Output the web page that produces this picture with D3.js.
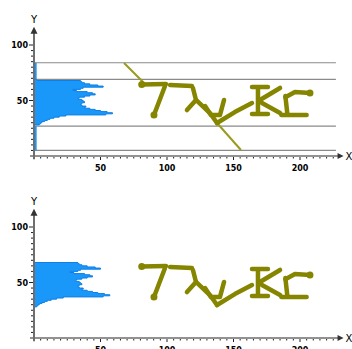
<!DOCTYPE html>
<html>
<head>
<meta charset="utf-8">
<script src="https://cdn.jsdelivr.net/npm/d3@7"></script>
<style>
  body { margin: 0; background: #fff; }
  svg { display: block; }
  .lbl { font-family: "DejaVu Sans", sans-serif; font-size: 8px; font-weight: bold; fill: #000; }
  .axname { font-family: "DejaVu Sans", sans-serif; font-size: 10px; fill: #000; }
</style>
</head>
<body>
<script>
// Row histogram: bin (y value) and pixel count per row
var histBins = [28, 29, 30, 31, 32, 33, 34, 35, 36, 37, 38, 39, 40, 41, 42, 43, 44, 45, 46, 47, 48,
                49, 50, 51, 52, 53, 54, 55, 56, 57, 58, 59, 60, 61, 62, 63, 64, 65, 66, 67, 68, 69];
var histClean = [1, 2, 3, 4, 6, 8, 10, 13, 17, 22, 52, 57, 53, 48, 44, 40, 36, 37, 34, 33, 34,
                 36, 35, 34, 31, 32, 36, 40, 44, 42, 38, 30, 27, 33, 35, 50, 46, 40, 36, 34, 33, 0];
var histNoisy = [3, 4, 5, 6, 8, 10, 12, 15, 19, 24, 54, 59, 55, 50, 46, 42, 38, 39, 36, 35, 36,
                 38, 37, 36, 33, 34, 38, 42, 46, 44, 40, 32, 29, 35, 37, 52, 48, 42, 38, 36, 35, 2];
// Thin noise-line counts outside the text band (top panel only)
var noiseBinsLow = [5, 27];
var noiseBinsHigh = [69, 84];
var noiseCount = 2;

// Reference lines (top panel)
var guideLines = [84, 69, 27, 5];

// Glyph strokes, in data units [x, y]
var glyphs = [
  [[81, 64.4], [99.2, 64.9]],
  [[98.5, 63], [90.2, 36.9]],
  [[102.3, 64], [118.8, 63]],
  [[119.5, 61.3], [121.8, 50.5], [115, 41.4]],
  [[121.8, 50.5], [132.3, 38.7], [137.6, 29.7]],
  [[128.6, 45], [133, 36.9], [139.8, 36.9], [142.9, 50.5]],
  [[137.6, 29.7], [151, 39.6], [163.9, 47.7]],
  [[168.4, 61.3], [168.4, 38.7]],
  [[163.9, 62.2], [175.9, 62.2]],
  [[169.9, 50.5], [185, 61.3]],
  [[171.4, 47.7], [185, 38.7]],
  [[163.9, 37.8], [175.9, 37.8]],
  [[189, 54], [190.5, 37.8]],
  [[189, 53], [196.2, 57.7], [207.5, 56.8]],
  [[186, 36.9], [205, 36.9]]
];
// Dots at stroke ends
var glyphDots = [[81, 64.4], [90.2, 36.9], [207.5, 56.8]];
// Noise line pieces (top panel only)
var noiseLine = [
  [[67.7, 83.8], [83.5, 64.9]],
  [[137.6, 29.7], [155.6, 5.4]]
];

var xTicks = [50, 100, 150, 200];
var yTicks = [50, 100];

var width = 352, height = 349;
var svg = d3.select("body").append("svg")
    .attr("width", width)
    .attr("height", height);

var x = d3.scaleLinear().domain([0, 200]).range([34, 300]);

function drawPanel(y0px, counts, noisy) {
    var y = d3.scaleLinear().domain([0, 100]).range([y0px, y0px - 111]);
    var g = svg.append("g");

    // guide lines
    if (noisy) {
        g.selectAll(".guide")
            .data(guideLines)
            .enter().append("line")
            .attr("x1", x(0)).attr("x2", x(227))
            .attr("y1", function (d) { return y(d); })
            .attr("y2", function (d) { return y(d); })
            .attr("stroke", "#8a8a8a")
            .attr("stroke-width", 1.2);
    }

    // histogram
    var rows = histBins.map(function (b, i) { return { b: b, v: counts[i] }; });
    var area = d3.area()
        .curve(d3.curveStepAfter)
        .y(function (d) { return y(d.b); })
        .x0(x(0))
        .x1(function (d) { return x(d.v); });
    g.append("path")
        .datum(rows)
        .attr("d", area)
        .attr("fill", "#1a98fa")
        .attr("stroke", "#0c7fe6")
        .attr("stroke-width", 1);

    if (noisy) {
        [noiseBinsLow, noiseBinsHigh].forEach(function (r) {
            g.append("rect")
                .attr("x", x(0))
                .attr("y", y(r[1]))
                .attr("width", x(noiseCount) - x(0))
                .attr("height", y(r[0]) - y(r[1]))
                .attr("fill", "#1a98fa");
        });
    }

    var line = d3.line()
        .x(function (d) { return x(d[0]); })
        .y(function (d) { return y(d[1]); });

    if (noisy) {
        g.selectAll(".noise")
            .data(noiseLine)
            .enter().append("path")
            .attr("d", line)
            .attr("fill", "none")
            .attr("stroke", "#9a9a20")
            .attr("stroke-width", 2);
    }

    g.selectAll(".glyph")
        .data(glyphs)
        .enter().append("path")
        .attr("d", line)
        .attr("fill", "none")
        .attr("stroke", "#858500")
        .attr("stroke-width", 4.5)
        .attr("stroke-linecap", "round")
        .attr("stroke-linejoin", "round");
    g.selectAll(".dot")
        .data(glyphDots)
        .enter().append("circle")
        .attr("cx", function (d) { return x(d[0]); })
        .attr("cy", function (d) { return y(d[1]); })
        .attr("r", 3.5)
        .attr("fill", "#858500");

    // axes
    var axisColor = "#6e6e6e";
    g.append("line")
        .attr("x1", x(-3)).attr("x2", x(229))
        .attr("y1", y(0)).attr("y2", y(0))
        .attr("stroke", axisColor).attr("stroke-width", 1.5);
    g.append("path")
        .attr("d", "M" + (x(229) + 5) + "," + y(0) + "l-6,-3l0,6z")
        .attr("fill", "#333");
    g.append("line")
        .attr("x1", x(0)).attr("x2", x(0))
        .attr("y1", y(-3)).attr("y2", y(112))
        .attr("stroke", axisColor).attr("stroke-width", 2);
    g.append("path")
        .attr("d", "M" + x(0) + "," + (y(112) - 5) + "l-3.5,7l7,0z")
        .attr("fill", "#333");

    // minor ticks
    g.selectAll(".xt")
        .data(d3.range(5, 230, 5))
        .enter().append("line")
        .attr("x1", function (d) { return x(d); })
        .attr("x2", function (d) { return x(d); })
        .attr("y1", y(0) + 1)
        .attr("y2", function (d) { return y(0) + (d % 50 === 0 ? 4 : 2.5); })
        .attr("stroke", "#222");
    g.selectAll(".yt")
        .data(d3.range(5, 105, 5))
        .enter().append("line")
        .attr("y1", function (d) { return y(d); })
        .attr("y2", function (d) { return y(d); })
        .attr("x1", x(0) - 1)
        .attr("x2", function (d) { return x(0) - (d % 50 === 0 ? 5 : 3); })
        .attr("stroke", "#222");

    // tick labels
    g.selectAll(".xl")
        .data(xTicks)
        .enter().append("text")
        .attr("class", "lbl")
        .attr("x", function (d) { return x(d); })
        .attr("y", y(0) + 15)
        .attr("text-anchor", "middle")
        .text(function (d) { return d; });
    g.selectAll(".yl")
        .data(yTicks)
        .enter().append("text")
        .attr("class", "lbl")
        .attr("x", x(0) - 6)
        .attr("y", function (d) { return y(d) + 3; })
        .attr("text-anchor", "end")
        .text(function (d) { return d; });

    g.append("text").attr("class", "axname")
        .attr("x", x(0)).attr("y", y(112) - 9)
        .attr("text-anchor", "middle").text("Y");
    g.append("text").attr("class", "axname")
        .attr("x", x(229) + 7).attr("y", y(0) + 4)
        .text("X");
}

drawPanel(156, histNoisy, true);
drawPanel(338, histClean, false);
</script>
</body>
</html>
